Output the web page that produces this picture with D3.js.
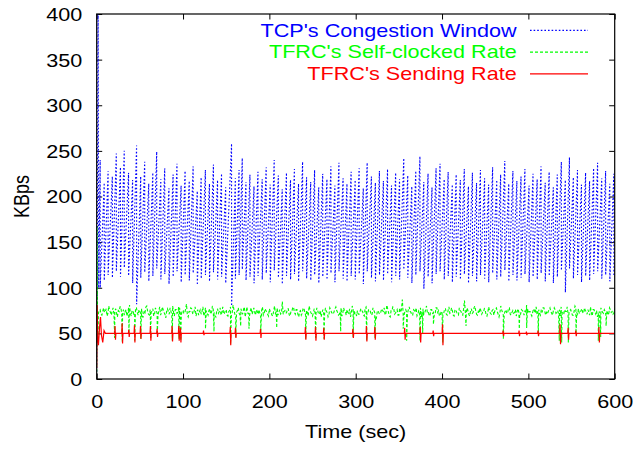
<!DOCTYPE html>
<html>
<head>
<meta charset="utf-8">
<script src="https://cdn.jsdelivr.net/npm/d3@7"></script>
<style>
  html, body { margin: 0; padding: 0; background: #fff; }
  text { font-family: "Liberation Sans", Arial, Helvetica, sans-serif; font-size: 18px; }
</style>
</head>
<body>
<svg id="chart" width="633" height="449"></svg>
<script>
// ---------------- data ----------------
const xTicks = [0, 100, 200, 300, 400, 500, 600];
const yTicks = [0, 50, 100, 150, 200, 250, 300, 350, 400];

const seriesNames = ["TCP's Congestion Window", "TFRC's Self-clocked Rate", "TFRC's Sending Rate"];

// TCP slow-start at the beginning of the run (sec, KBps)
const tcpStartTime = [0, 0.8, 1.6, 2.3];
const tcpStartRate = [8, 150, 420, 100];

// TCP congestion-avoidance cycles: time of each loss, window before and after it
const tcpLossTime = [
  4.0, 8.7, 13.2, 18.1, 22.7, 27.5, 31.9, 36.9, 41.6, 46.2,
  51.0, 55.6, 60.3, 65.0, 69.5, 74.3, 78.8, 83.7, 88.5, 93.0,
  97.8, 102.4, 107.2, 111.7, 116.5, 121.0, 125.9, 130.6, 135.2, 140.0,
  144.6, 149.4, 156.2, 160.6, 164.9, 168.6, 172.9, 177.5, 182.2, 186.8,
  191.7, 196.3, 201.0, 205.6, 210.4, 214.9, 219.8, 224.5, 229.0, 233.8,
  238.5, 243.1, 247.9, 252.4, 257.2, 261.8, 266.7, 271.3, 275.9, 280.6,
  285.4, 289.9, 294.7, 299.4, 304.0, 308.8, 313.3, 318.2, 322.8, 327.5,
  332.1, 336.9, 341.5, 346.3, 350.8, 355.7, 360.3, 365.0, 369.6, 374.4,
  378.9, 383.8, 388.4, 393.1, 397.7, 402.5, 407.1, 411.9, 416.4, 421.2,
  425.8, 430.6, 435.2, 440.0, 444.5, 449.3, 454.0, 458.6, 463.4, 467.9,
  472.7, 477.3, 482.1, 486.7, 491.5, 496.0, 500.8, 505.4, 510.2, 514.7,
  519.5, 524.1, 528.9, 533.5, 538.2, 542.8, 547.6, 552.1, 556.9, 561.5,
  566.3, 570.9, 575.6, 580.2, 585.0, 589.5, 594.3, 599.0
];
const tcpPeak = [
  240, 215, 228, 222, 247, 232, 250, 226, 218, 256,
  222, 238, 214, 226, 249, 219, 231, 209, 224, 236,
  212, 228, 217, 233, 206, 221, 229, 214, 235, 218,
  225, 210, 258, 220, 229, 242, 216, 224, 211, 227,
  219, 232, 213, 240, 223, 208, 226, 218, 230, 214,
  238, 221, 216, 229, 210, 225, 219, 233, 212, 237,
  220, 214, 227, 218, 231, 209, 237, 222, 215, 228,
  217, 230, 212, 226, 219, 242, 223, 211, 228, 244,
  216, 225, 210, 231, 236, 219, 227, 213, 224, 218,
  230, 211, 226, 215, 229, 220, 213, 232, 218, 224,
  239, 214, 228, 217, 222, 230, 212, 225, 219, 233,
  215, 227, 210, 224, 238, 218, 243, 221, 229, 213,
  226, 217, 231, 237, 220, 228, 214, 225
];
const tcpTrough = [
  100, 108, 114, 111, 118, 112, 122, 113, 105, 82,
  111, 117, 107, 113, 121, 109, 115, 104, 112, 118,
  106, 114, 108, 116, 103, 110, 114, 107, 117, 109,
  112, 105, 80, 110, 114, 120, 108, 112, 105, 113,
  109, 116, 106, 119, 111, 104, 113, 109, 115, 107,
  118, 110, 108, 114, 105, 112, 109, 116, 106, 118,
  110, 107, 113, 109, 115, 104, 118, 111, 107, 114,
  108, 115, 106, 113, 109, 120, 111, 105, 114, 118,
  99, 112, 105, 115, 118, 109, 113, 106, 112, 109,
  115, 105, 113, 107, 114, 110, 106, 116, 109, 112,
  119, 107, 114, 108, 111, 115, 106, 112, 109, 116,
  107, 113, 105, 112, 119, 95, 121, 110, 114, 106,
  113, 108, 115, 118, 110, 114, 107, 112
];

// TFRC self-clocked rate: start-up, then one sample per second from t = 2 s
const selfStartTime = [0, 0.3, 0.9, 1.5];
const selfStartRate = [8, 167, 75, 45];
const selfSampleStart = 2;
const selfSampleStep = 1;
const selfClockedRate = [
  72,75,76,71,70,74,78,73,74,77,69,72,80,75,73,70,75,78,71,74,
  77,72,68,75,74,79,79,71,72,76,70,74,76,69,73,78,81,72,69,75,
  75,71,72,78,78,73,70,76,74,72,77,68,68,75,73,79,80,74,71,70,
  76,73,74,77,69,71,78,75,72,70,75,79,70,73,79,76,73,71,67,74,
  77,74,71,78,74,70,80,73,69,76,76,72,73,79,78,71,70,75,75,72,
  72,77,82,70,68,74,74,78,77,72,71,75,79,69,73,76,70,74,76,71,
  74,79,69,72,78,75,72,70,75,77,71,73,80,76,73,69,68,74,77,72,
  74,78,70,73,79,71,72,75,76,70,69,74,75,79,71,73,81,76,71,70,
  73,75,78,72,70,77,74,71,76,79,68,73,79,72,72,69,75,78,71,74,
  78,73,70,76,74,71,76,72,68,75,79,70,72,77,75,73,71,69,77,74,
  73,70,69,75,80,72,74,78,70,73,76,71,72,85,71,74,75,72,73,77,
  77,70,69,74,74,78,79,73,71,76,76,71,68,74,75,70,72,77,78,73,
  70,75,74,69,80,76,73,71,69,73,77,72,72,78,75,71,71,75,68,73,
  76,71,72,78,74,73,68,70,78,76,73,72,71,74,77,79,75,73,70,71,
  74,78,69,72,78,75,74,70,76,73,72,77,68,73,80,76,75,72,73,69,
  75,71,71,74,77,75,74,70,69,78,79,73,72,76,76,74,70,71,78,75,
  73,69,67,74,75,72,71,73,77,75,74,78,70,72,81,77,73,69,68,75,
  75,79,78,71,72,74,76,70,70,78,73,76,87,71,70,74,76,73,72,76,
  79,74,73,70,70,76,75,73,78,69,71,75,74,78,68,74,77,71,72,76,
  80,73,74,70,69,76,76,72,73,70,71,78,78,73,75,69,70,74,74,71,
  72,77,77,71,70,75,79,72,73,78,75,70,69,76,76,73,71,70,78,75,
  74,71,70,77,86,73,72,78,75,71,69,74,77,72,73,78,80,75,71,70,
  74,72,78,75,71,73,73,77,76,70,69,73,79,75,72,71,75,76,70,74,
  77,78,74,71,68,72,80,76,73,70,71,74,76,72,72,78,78,71,70,73,
  75,72,73,76,69,74,77,73,72,71,76,75,74,70,75,72,81,77,72,74,
  74,71,69,73,77,75,72,79,71,74,76,72,70,76,73,78,78,74,70,73,
  71,74,76,78,74,72,70,75,78,76,72,73,75,71,76,69,79,72,73,71,
  76,74,74,79,71,72,75,76,73,70,70,74,80,78,73,71,77,72,72,75,
  77,73,72,78,75,74,71,76,73,70,79,72,69,76,76,73,71,75,68,72,
  74,71,78,75,73,72,76,74,69,75,72,70,78,76,73,74,71,72,77,73
];
// short drops of the self-clocked rate
const dipTime = [
  20.8, 29.7, 37.4, 44.0, 51.0, 62.5, 70.2, 87.6, 95.3, 97.3,
  126.0, 135.9, 155.0, 161.0, 166.8, 176.4, 190.0, 208.5, 242.0, 253.7,
  263.3, 282.6, 297.0, 312.7, 322.4, 355.0, 359.0, 374.5, 377.6, 390.0,
  400.8, 427.8, 471.0, 489.5, 498.0, 511.5, 535.8, 538.6, 546.3, 555.2,
  581.0, 583.8, 590.0
];
const dipRate = [
  45, 40, 50, 42, 44, 45, 48, 42, 44, 42,
  55, 52, 38, 46, 58, 55, 50, 56, 44, 45,
  44, 52, 46, 42, 45, 55, 42, 42, 50, 60,
  40, 58, 44, 55, 56, 50, 42, 40, 40, 50,
  42, 46, 58
];

// TFRC sending rate: start-up, steady level, and short excursions
const sendStartTime = [0, 0.5, 1.2, 2.0, 3.2, 4.4, 5.5, 7.0, 8.5, 10];
const sendStartRate = [12, 81, 45, 37, 55, 68, 48, 40, 53, 50];
const sendSteadyRate = 50;
const spikeTime = [
  21.5, 29.7, 37.4, 44.0, 51.0, 62.5, 70.2, 87.6, 95.3, 97.3,
  124.0, 155.0, 161.0, 190.0, 242.0, 253.7, 263.3, 297.0, 312.7, 322.4,
  357.0, 375.0, 390.0, 400.8, 471.0, 489.5, 498.0, 511.5, 537.0, 546.3,
  555.2, 582.0
];
const spikeHigh = [
  58, 61, 54, 59, 58, 58, 55, 58, 58, 56,
  53, 57, 56, 55, 57, 57, 56, 55, 58, 57,
  56, 57, 53, 60, 53, 53, 52, 53, 60, 56,
  53, 57
];
const spikeLow = [
  43, 39, 46, 40, 44, 42, 46, 41, 42, 40,
  48, 37, 45, 45, 43, 42, 43, 45, 41, 43,
  43, 40, 47, 37, 47, 47, 48, 47, 38, 43,
  47, 40
];

// ---------------- build point lists ----------------
const tcpPoints = tcpStartTime.map((t, i) => [t, tcpStartRate[i]]);
tcpLossTime.forEach((t, i) => {
  tcpPoints.push([t, tcpPeak[i]]);
  tcpPoints.push([t + 0.05, tcpTrough[i]]);
});

const selfPoints = selfStartTime.map((t, i) => [t, selfStartRate[i]]);
const selfSamples = selfClockedRate.map((v, i) => [selfSampleStart + i * selfSampleStep, v]);
const dips = dipTime.map((t, i) => [t, dipRate[i]]);
selfPoints.push(...selfSamples.concat(dips).sort((a, b) => a[0] - b[0]));

const sendPoints = sendStartTime.map((t, i) => [t, sendStartRate[i]]);
spikeTime.forEach((t, i) => {
  sendPoints.push([t - 0.7, sendSteadyRate], [t - 0.25, spikeHigh[i]],
                  [t + 0.25, spikeLow[i]], [t + 0.7, sendSteadyRate]);
});
sendPoints.push([600, sendSteadyRate]);

// ---------------- layout ----------------
const svg = d3.select("#chart");
const plot = { left: 96.7, right: 614.7, top: 14, bottom: 379 };
const textStretch = 1.2;   // glyphs are drawn wider than tall

const x = d3.scaleLinear().domain([0, 600]).range([plot.left, plot.right]);
const y = d3.scaleLinear().domain([0, 400]).range([plot.bottom, plot.top]);

svg.append("defs").append("clipPath").attr("id", "plotClip")
  .append("rect")
  .attr("x", plot.left).attr("y", plot.top)
  .attr("width", plot.right - plot.left).attr("height", plot.bottom - plot.top);

const colors = ["#0000ff", "#00ff00", "#ff0000"];
const dashes = ["1.6,2.0", "3,2", null];

// ---------------- axes ----------------
const tick = 5.5;
function styleAxis(g) {
  g.select(".domain").remove();
  g.selectAll(".tick line").attr("stroke", "#000").attr("stroke-width", 1);
  g.selectAll("text").attr("fill", "#000").style("font-size", "18px");
}

const leftAxis = svg.append("g").attr("transform", `translate(${plot.left},0)`)
  .call(d3.axisLeft(y).tickValues(yTicks).tickSize(-tick).tickPadding(14.4))
  .call(styleAxis);
leftAxis.selectAll("text")
  .attr("transform", `scale(${textStretch},1)`)
  .attr("x", -14.4 / textStretch)
  .attr("dy", "0.355em");

svg.append("g").attr("transform", `translate(${plot.right},0)`)
  .call(d3.axisRight(y).tickValues(yTicks).tickSize(-tick).tickFormat(""))
  .call(styleAxis);

const bottomAxis = svg.append("g").attr("transform", `translate(0,${plot.bottom})`)
  .call(d3.axisBottom(x).tickValues(xTicks).tickSize(-tick).tickPadding(16.2))
  .call(styleAxis);
bottomAxis.selectAll(".tick text")
  .attr("transform", `scale(${textStretch},1)`)
  .attr("x", 0);

svg.append("g").attr("transform", `translate(0,${plot.top})`)
  .call(d3.axisTop(x).tickValues(xTicks).tickSize(-tick).tickFormat(""))
  .call(styleAxis);

// ---------------- series ----------------
const line = d3.line().x(d => x(d[0])).y(d => y(d[1]));
const series = [tcpPoints, selfPoints, sendPoints];
const plotG = svg.append("g").attr("clip-path", "url(#plotClip)");
series.forEach((pts, i) => {
  plotG.append("path")
    .datum(pts)
    .attr("d", line)
    .attr("fill", "none")
    .attr("stroke", colors[i])
    .attr("stroke-width", i === 2 ? 1.2 : 1.1)
    .attr("stroke-dasharray", dashes[i]);
});

// frame
svg.append("rect")
  .attr("x", plot.left).attr("y", plot.top)
  .attr("width", plot.right - plot.left).attr("height", plot.bottom - plot.top)
  .attr("fill", "none").attr("stroke", "#000").attr("stroke-width", 1.2);

// ---------------- labels ----------------
function stretchedText(px, py, str, anchor, color, rotate) {
  const g = svg.append("g")
    .attr("transform", `translate(${px},${py}) scale(${textStretch},1)` + (rotate ? ` rotate(${rotate})` : ""));
  return g.append("text").attr("text-anchor", anchor).attr("fill", color).text(str);
}

stretchedText((plot.left + plot.right) / 2, 438, "Time (sec)", "middle", "#000");
stretchedText(29, (plot.top + plot.bottom) / 2, "KBps", "middle", "#000", -90);

// legend
const legendBaselines = [36.7, 58.4, 80.1];
seriesNames.forEach((name, i) => {
  stretchedText(516.7, legendBaselines[i], name, "end", colors[i]);
  svg.append("line")
    .attr("x1", 530).attr("x2", 588)
    .attr("y1", legendBaselines[i] - 6.3).attr("y2", legendBaselines[i] - 6.3)
    .attr("stroke", colors[i])
    .attr("stroke-width", i === 2 ? 1.2 : 1.1)
    .attr("stroke-dasharray", dashes[i]);
});
</script>
</body>
</html>
